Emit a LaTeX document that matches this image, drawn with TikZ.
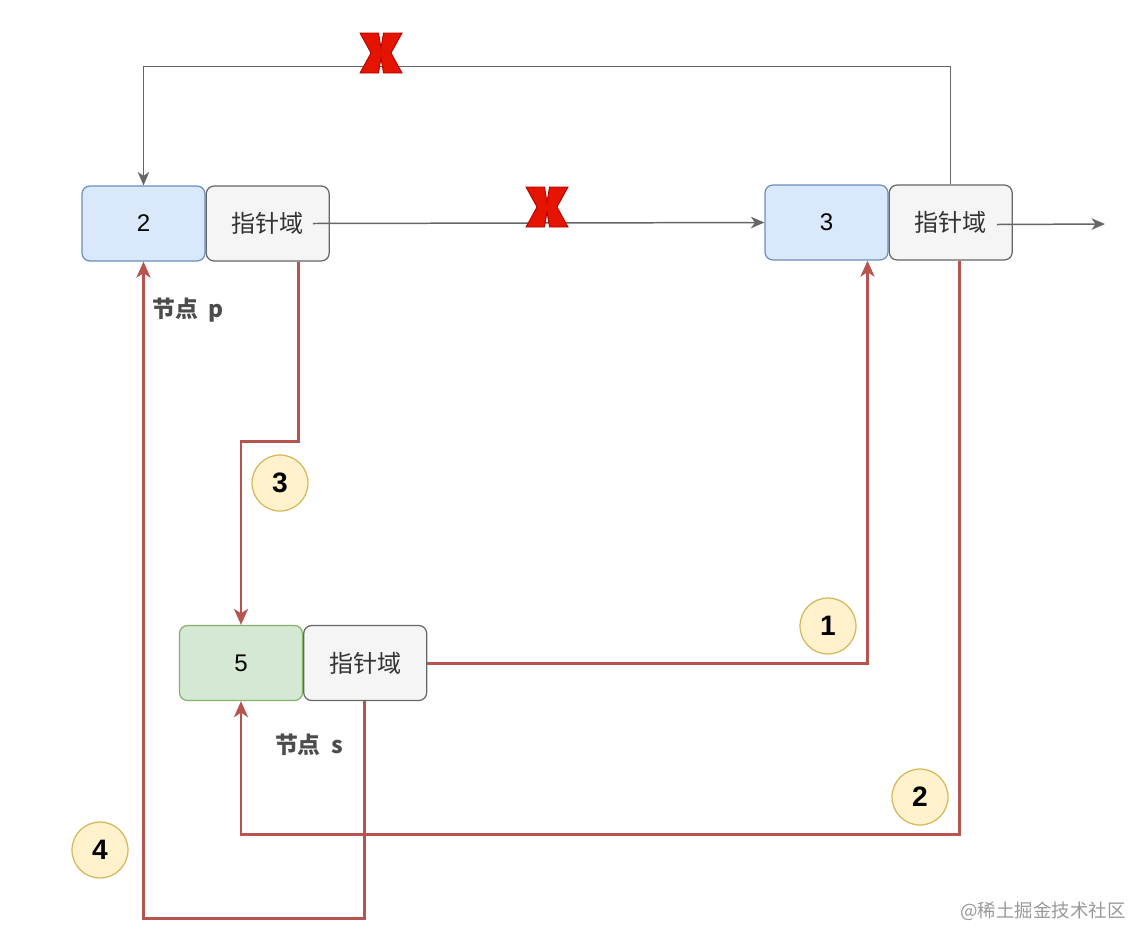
\documentclass[tikz,border=0pt]{standalone}
\usepackage{fontspec}
\setmainfont{Liberation Sans}
\newfontfamily\cjk{Noto Sans CJK SC}
\usetikzlibrary{arrows.meta, positioning, calc}

\definecolor{bluefill}{HTML}{DAE8FC}
\definecolor{blueline}{HTML}{6C8EBF}
\definecolor{greenfill}{HTML}{D5E8D4}
\definecolor{greenline}{HTML}{82B366}
\definecolor{grayfill}{HTML}{F5F5F5}
\definecolor{grayline}{HTML}{666666}
\definecolor{redpath}{HTML}{B85450}
\definecolor{yelfill}{HTML}{FFF2CC}
\definecolor{yelline}{HTML}{D6B656}
\definecolor{xfill}{HTML}{E51400}
\definecolor{xline}{HTML}{B20000}

\tikzset{
  cell/.style={draw, rounded corners=4.5pt, line width=0.7pt, minimum width=2.46cm,
    minimum height=1.5cm, inner sep=0pt, font=\fontsize{13.7}{16}\selectfont},
  valbox/.style={cell, fill=bluefill, draw=blueline},
  newbox/.style={cell, fill=greenfill, draw=greenline},
  ptrbox/.style={cell, fill=grayfill, draw=grayline, text=black!80, font=\fontsize{13.7}{16}\selectfont\cjk},
  grayarrow/.style={draw=grayline, line width=0.85pt, -{Stealth[length=2.7mm, width=2.3mm, inset=0.8mm]}},
  redarrow/.style={draw=redpath, line width=1.7pt, -{Stealth[length=3.2mm, width=2.8mm, inset=0.9mm]}},
  stepnum/.style={circle, draw=yelline, fill=yelfill, line width=0.7pt, minimum size=1.12cm,
    inner sep=0pt, font=\fontsize{16}{18}\selectfont\bfseries},
  nodename/.style={text=black!70, font=\fontsize{13}{15}\selectfont\cjk\bfseries},
  redx/.pic={
    \filldraw[fill=xfill, draw=xline, line width=0.5pt]
      (-21,-20) -- (-2.5,-20) -- (0,-5) -- (2.5,-20) -- (21,-20) -- (10,0) -- (21,20)
      -- (2.5,20) -- (0,5) -- (-2.5,20) -- (-21,20) -- (-10,0) -- cycle;
  }
}

\begin{document}
\begin{tikzpicture}[x=0.02cm, y=-0.02cm]
\useasboundingbox (0,0) rectangle (1148,947);

% linked list nodes
\node[valbox] (p) at (143.5,223.5) {2};
\node[ptrbox, right=0pt of p] (pptr) {指针域};
\node[valbox] (n3) at (826.5,222.5) {3};
\node[ptrbox, right=0pt of n3] (n3ptr) {指针域};
\node[newbox] (s) at (241,663) {5};
\node[ptrbox, right=0pt of s] (sptr) {指针域};

\node[nodename] (plabel) at (188,310) {节点\ \ p};
\node[nodename] (slabel) at (309,745) {节点\ \ s};

% old links
\coordinate (nil) at (1105,224);
\draw[grayarrow] ($(pptr.east)+(-17,0)$) -- (n3.west);
\draw[grayarrow] (n3ptr.north) |- ($(p.north)+(0,-119)$) -- (p.north);
\draw[grayarrow] ($(n3ptr.east)+(-16,2)$) -- (nil);
\pic at (381,53) {redx};
\pic at (547,207) {redx};

% new links
\draw[redarrow] (sptr.east) -| ($(n3.south)+(41,0)$);
\draw[redarrow] ($(n3ptr.south)+(9,0)$) |- ($(s.south)+(0,133)$) -- (s.south);
\draw[redarrow] ($(pptr.south)+(31,0)$) |- ($(s.north)+(0,-183)$) -- (s.north);
\draw[redarrow] ($(sptr.south)+(-1,0)$) |- ($(p.south)+(0,657)$) -- (p.south);

\node[stepnum] (c1) at (828,626) {1};
\node[stepnum] (c2) at (920,797) {2};
\node[stepnum] (c3) at (280,483) {3};
\node[stepnum] (c4) at (100,850) {4};

\node[text=black!40, font=\fontsize{10.5}{12}\selectfont\cjk] (mark) at (1043,911) {@稀土掘金技术社区};
\end{tikzpicture}
\end{document}
